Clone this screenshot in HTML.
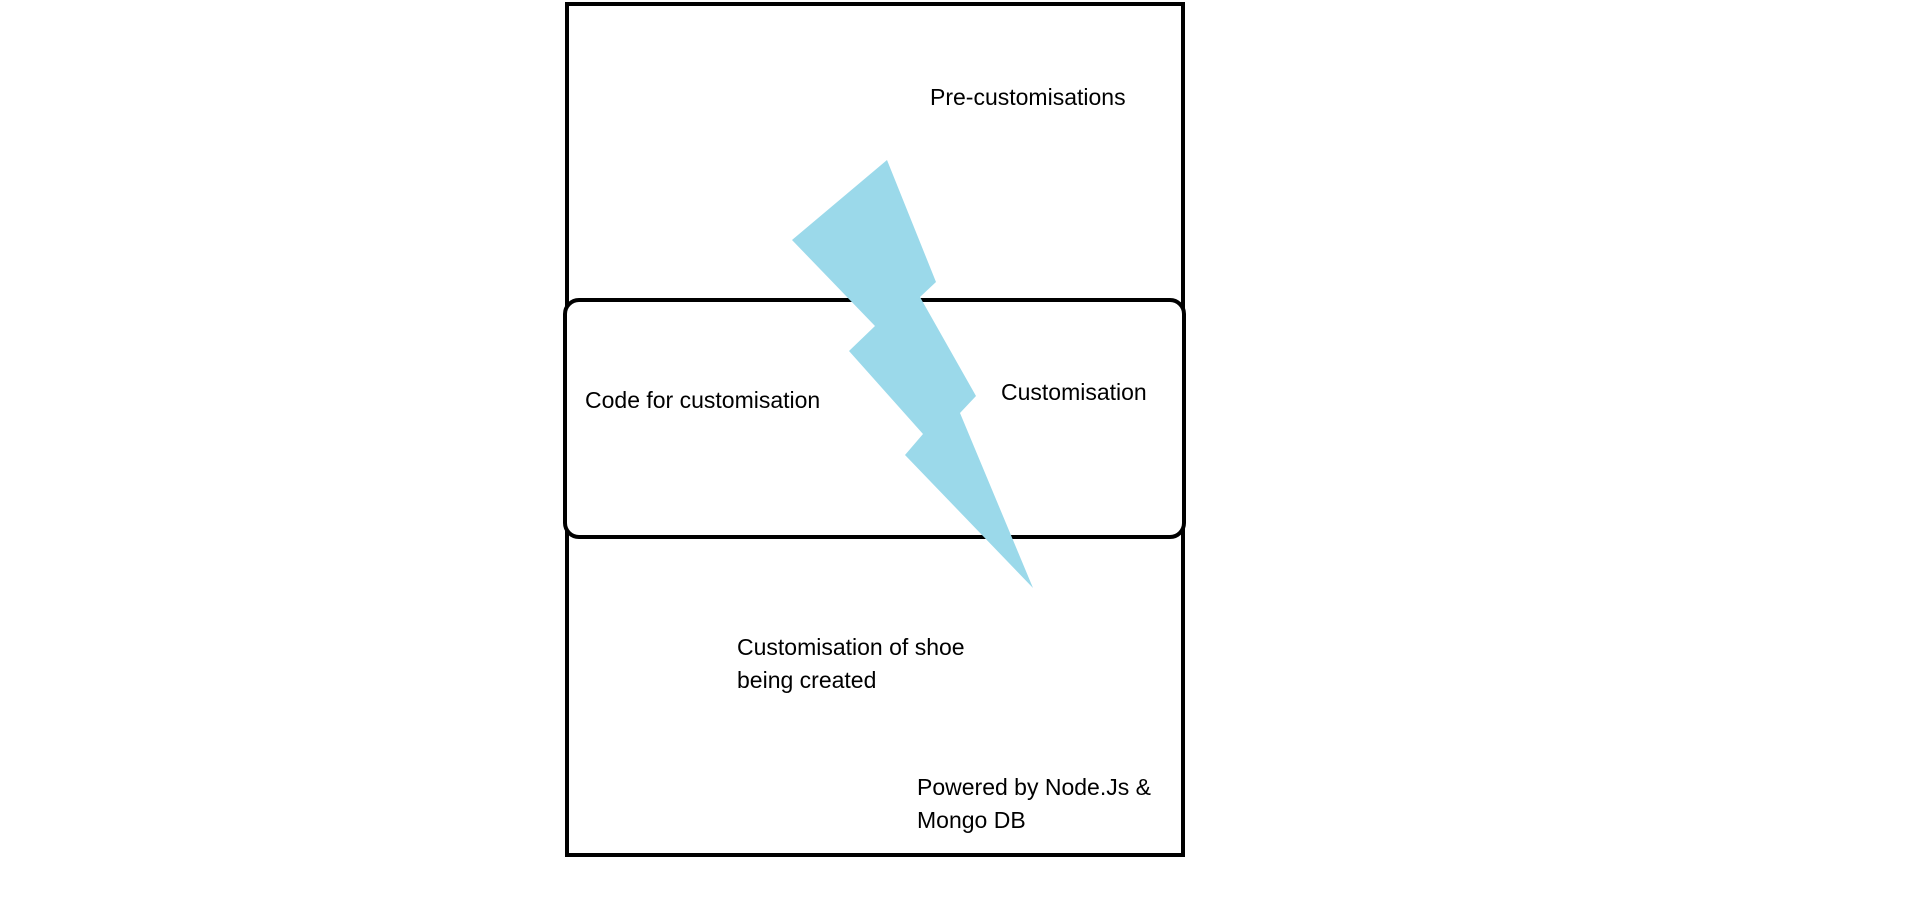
<!DOCTYPE html>
<html><head><meta charset="utf-8"><style>
html,body{margin:0;padding:0;background:#fff;width:1910px;height:923px;overflow:hidden}
</style></head><body>
<svg width="1910" height="923" xmlns="http://www.w3.org/2000/svg" font-family="Liberation Sans, sans-serif" font-size="23" fill="#000">
<g transform="translate(-4,-2)">
<rect x="571" y="6" width="616" height="851" fill="none" stroke="#000" stroke-width="4"/>
<rect x="569" y="302" width="619" height="237" rx="14" fill="#fff" stroke="#000" stroke-width="4"/>
<text x="934" y="107">Pre-customisations</text>
<text x="589" y="410">Code for customisation</text>
<text x="1005" y="402">Customisation</text>
<text x="741" y="657">Customisation of shoe</text>
<text x="741" y="690">being created</text>
<text x="921" y="797">Powered by Node.Js &amp;</text>
<text x="921" y="830">Mongo DB</text>
<polygon points="891,162 940,284 924,299 980,398 964,415 1037,590 909,457 927,436 853,353 879,328 796,242" fill="#9bd9ea"/>
</g>
</svg>
</body></html>
